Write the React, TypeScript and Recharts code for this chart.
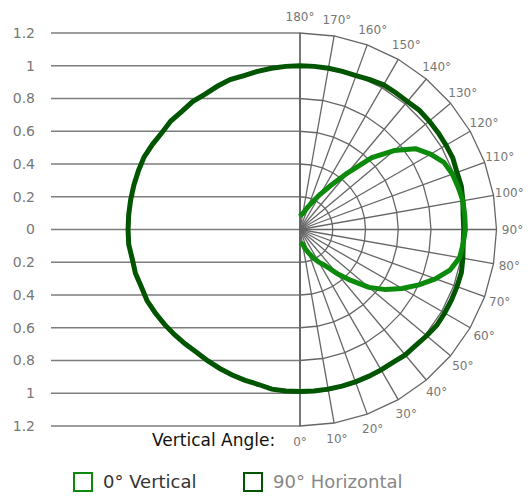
import React from 'react';
import {
  RadarChart,
  Radar,
  PolarGrid,
  PolarAngleAxis,
  PolarRadiusAxis,
  Legend,
  LineChart,
  XAxis,
  YAxis,
  CartesianGrid,
} from 'recharts';

// angles in degrees, 0 = straight down, 90 = horizontal right, 180 = straight up
const angles = [
  0, 5, 10, 15, 20, 25, 30, 35, 40, 45, 50, 55, 60, 65, 70, 75, 80, 85,
  90, 95, 100, 105, 110, 115, 120, 125, 130, 135, 140, 145, 150, 155, 160, 165, 170, 175,
  180, 185, 190, 195, 200, 205, 210, 215, 220, 225, 230, 235, 240, 245, 250, 255, 260, 265,
  270, 275, 280, 285, 290, 295, 300, 305, 310, 315, 320, 325, 330, 335, 340, 345, 350, 355,
];

// 90° Horizontal, full turn
const horizontal = [
  0.99, 0.99, 0.99, 0.99, 0.99, 0.99, 0.99, 0.99, 1.0, 1.0, 1.01, 1.02, 1.02, 1.02, 1.02, 1.02, 1.01, 1.0,
  1.0, 1.0, 1.01, 1.02, 1.02, 1.03, 1.03, 1.03, 1.03, 1.03, 1.02, 1.02, 1.02, 1.01, 1.0, 1.0, 1.0, 1.0,
  1.0, 1.0, 1.0, 1.0, 1.0, 1.01, 1.01, 1.01, 1.02, 1.02, 1.03, 1.03, 1.04, 1.05, 1.05, 1.05, 1.05, 1.05,
  1.05, 1.05, 1.04, 1.04, 1.03, 1.03, 1.02, 1.01, 1.0, 0.99, 0.98, 0.98, 0.98, 0.98, 0.98, 0.98, 0.99, 0.99,
];

// 0° Vertical, 0..180 only
const vertical = [
  0.08, 0.085, 0.09, 0.12, 0.15, 0.19, 0.23, 0.27, 0.35, 0.44, 0.55, 0.64, 0.72, 0.8, 0.88, 0.95, 0.99, 1.0,
  1.01, 1.01, 1.01, 1.0, 0.99, 0.97, 0.92, 0.86, 0.75, 0.62, 0.45, 0.33, 0.25, 0.19, 0.15, 0.12, 0.1, 0.09,
  0.08,
];

const angleTicks = [0, 10, 20, 30, 40, 50, 60, 70, 80, 90, 100, 110, 120, 130, 140, 150, 160, 170, 180];
const radiusTicks = [0, 0.2, 0.4, 0.6, 0.8, 1, 1.2];
const scaleTicks = [-1.2, -1, -0.8, -0.6, -0.4, -0.2, 0, 0.2, 0.4, 0.6, 0.8, 1, 1.2];

const data = angles.map((a, i) => ({
  angle: a,
  h: horizontal[i],
  v: i < vertical.length ? vertical[i] : null,
}));

// two dummy rows so the scale chart has something to lay out
const scaleRows = [
  { x: 0, y: -1.2 },
  { x: 1, y: 1.2 },
];

const FONT = '"DejaVu Sans", Verdana, sans-serif';

const AngleTick = (props: any) => {
  const { x, y, payload } = props;
  return (
    <text x={x} y={y} textAnchor="middle" dominantBaseline="central" fill="#777" fontSize={12} fontFamily={FONT}>
      {payload.value}°
    </text>
  );
};

// open curve: the vertical plane only covers 0..180, so no closing segment
const OpenCurve = (props: any) => {
  const pts = (props.points || []).filter(
    (p: any) => p.value != null && Number.isFinite(p.x) && Number.isFinite(p.y)
  );
  const d = pts.map((p: any, i: number) => `${i ? 'L' : 'M'}${p.x},${p.y}`).join('');
  return <path d={d} fill="none" stroke={props.stroke} strokeWidth={props.strokeWidth} strokeLinejoin="round" />;
};

const renderLegend = (props: any) => {
  const items = props.payload || [];
  return (
    <div style={{ display: 'flex', paddingLeft: 73, fontFamily: FONT, fontSize: 18, lineHeight: '21px' }}>
      {items.map((p: any, i: number) => (
        <div key={p.value} style={{ display: 'flex', alignItems: 'center', width: i === 0 ? 170 : 'auto' }}>
          <span
            style={{
              display: 'inline-block',
              width: 16,
              height: 16,
              border: `2px solid ${p.color}`,
              marginRight: 10,
            }}
          />
          <span style={{ color: i === 0 ? '#333' : '#888' }}>{p.value}</span>
        </div>
      ))}
    </div>
  );
};

export default function App() {
  return (
    <div style={{ position: 'absolute', left: 0, top: 0, width: 532, height: 497, background: '#fff' }}>
      <div style={{ position: 'absolute', left: 0, top: 0 }}>
        <LineChart width={532} height={497} data={scaleRows} margin={{ top: 33, right: 232, bottom: 71, left: 0 }}>
          <CartesianGrid vertical={false} stroke="#7d7d7d" strokeWidth={1.5} />
          <XAxis dataKey="x" type="number" domain={[0, 1]} hide />
          <YAxis
            dataKey="y"
            type="number"
            domain={[-1.2, 1.2]}
            ticks={scaleTicks}
            interval={0}
            width={51}
            axisLine={false}
            tickLine={false}
            tickSize={0}
            tickMargin={16}
            tickFormatter={(v: number) => String(Math.abs(Math.round(v * 10) / 10))}
            tick={{ fill: '#777', fontSize: 14, fontFamily: FONT }}
          />
        </LineChart>
      </div>
      <div style={{ position: 'absolute', left: 0, top: 0 }}>
        <RadarChart
          width={532}
          height={497}
          data={data}
          cx={300}
          cy={229.5}
          innerRadius={0}
          outerRadius={196.5}
          startAngle={-90}
          endAngle={270}
          margin={{ top: 0, right: 0, bottom: 0, left: 0 }}
        >
          <PolarGrid gridType="polygon" stroke="#666" strokeWidth={1.3} />
          <PolarAngleAxis
            dataKey="angle"
            type="number"
            domain={[0, 360]}
            ticks={angleTicks}
            axisLine={false}
            tickLine={false}
            tickSize={16}
            tick={AngleTick}
          />
          <PolarRadiusAxis type="number" domain={[0, 1.2]} ticks={radiusTicks} axisLine={false} tick={false} />
          <Radar name="90° Horizontal" dataKey="h" stroke="#005500" strokeWidth={5} fill="none" isAnimationActive={false} />
          <Radar
            name="0° Vertical"
            dataKey="v"
            stroke="#0b8a0b"
            strokeWidth={5}
            fill="none"
            shape={OpenCurve}
            isAnimationActive={false}
          />
          <Legend content={renderLegend} wrapperStyle={{ top: 471, left: 0, width: 532 }} />
        </RadarChart>
      </div>
      <div
        style={{
          position: 'absolute',
          left: 152,
          top: 432,
          fontFamily: FONT,
          fontSize: 17,
          lineHeight: '17px',
          color: '#111',
        }}
      >
        Vertical Angle:
      </div>
    </div>
  );
}
